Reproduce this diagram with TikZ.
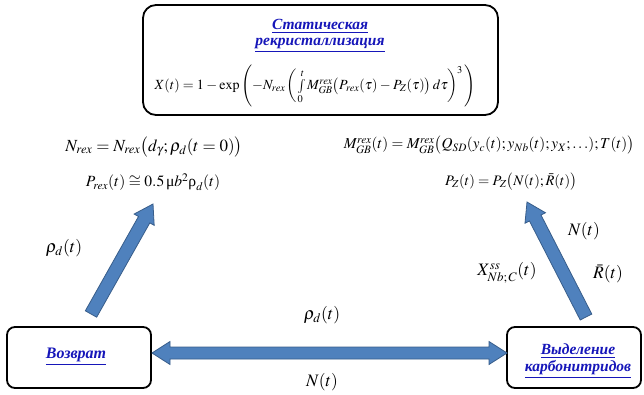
\documentclass[tikz,border=0pt]{standalone}
\usepackage{mathptmx}
\usepackage{fontspec}
\setmainfont{Liberation Serif}
\usetikzlibrary{calc}
\definecolor{arrfill}{RGB}{79,129,189}
\definecolor{arrline}{RGB}{56,93,138}
\definecolor{lnk}{RGB}{22,22,185}
\newcommand\myunder[1]{\underline{#1}}
\newcommand\fsz[1]{\fontsize{#1}{1.2\dimexpr#1pt\relax}\selectfont}
\newcommand\fatarrow[2]{%
  \coordinate (hb) at ($(#2)!18pt!(#1)$);
  \filldraw[fatarr] ($(#1)!6.5pt!90:(#2)$) -- ($(hb)!6.5pt!90:(#2)$) -- ($(hb)!11.5pt!90:(#2)$) -- (#2)
    -- ($(hb)!11.5pt!-90:(#2)$) -- ($(hb)!6.5pt!-90:(#2)$) -- ($(#1)!6.5pt!-90:(#2)$) -- cycle;}
\newcommand\fatdarrow[2]{%
  \coordinate (hb1) at ($(#1)!18pt!(#2)$);
  \coordinate (hb2) at ($(#2)!18pt!(#1)$);
  \filldraw[fatarr] (#1) -- ($(hb1)!11.5pt!90:(#2)$) -- ($(hb1)!6pt!90:(#2)$) -- ($(hb2)!6pt!90:(#2)$)
    -- ($(hb2)!11.5pt!90:(#2)$) -- (#2) -- ($(hb2)!11.5pt!-90:(#2)$) -- ($(hb2)!6pt!-90:(#2)$)
    -- ($(hb1)!6pt!-90:(#2)$) -- ($(hb1)!11.5pt!-90:(#2)$) -- cycle;}
\tikzset{
  fatarr/.style={fill=arrfill,draw=arrline,line width=0.8pt,line join=miter},
  box/.style={draw=black,line width=1.8pt,rounded corners=8pt},
  bigbox/.style={draw=black,line width=1.8pt,rounded corners=13pt},
  lbl/.style={inner sep=0pt,anchor=center,font=\fsz{17.5}},
  frm/.style={inner sep=0pt,anchor=center,font=\fsz{#1}},
  title/.style={inner sep=0pt,anchor=center,text=lnk,font=\fsz{15.5}\bfseries\itshape},
}
\begin{document}
\begin{tikzpicture}[x=1pt,y=-1pt]
\useasboundingbox (0,0) rectangle (644,395);
% boxes
\draw[bigbox] (143,5) rectangle (498,115);
\draw[box] (7,327) rectangle (151,388);
\draw[box] (507,327) rectangle (641,388);
\coordinate (lboxE) at (152,353);
\coordinate (rboxW) at (507,353);
% top box content
\node[title] (t1) at (320,26) {\myunder{Статическая}};
\node[title] (t2) at (320,45) {\myunder{рекристаллизация}};
\node[frm=14] (fX) at (315,86) {\medmuskip=3mu\thickmuskip=4mu$X(t)=1-\exp\left(-N_{rex}\left(\int\limits_0^t M_{GB}^{rex}\bigl(P_{rex}(\tau)-P_Z(\tau)\bigr)\,d\tau\right)^{\!3}\,\right)$};
% bottom boxes text
\node[title,font=\fsz{16}\bfseries\itshape] (vozv) at (76,357) {\myunder{Возврат}};
\node[title] (vyd1) at (578,351) {\myunder{Выделение}};
\node[title] (vyd2) at (578,369) {\myunder{карбонитридов}};
% left formulas
\node[frm=17] (fN) at (154,147) {$N_{rex}=N_{rex}\bigl(d_\gamma;\rho_d(t=0)\bigr)$};
\node[frm=15.6] (fP) at (153,182) {$P_{rex}(t)\cong 0.5\,\mbox{\rmfamily μ}b^2\mbox{\rmfamily ρ}_d(t)$};
% right formulas
\node[frm=15.2] (fM) at (489,145) {$M_{GB}^{rex}(t)=M_{GB}^{rex}\bigl(Q_{SD}(y_c(t);y_{Nb}(t);y_X;\ldots);T(t)\bigr)$};
\node[frm=14.5] (fZ) at (511,182) {$P_Z(t)=P_Z\bigl(N(t);\bar{R}(t)\bigr)$};
% arrow anchor coordinates
\coordinate (la0) at (91,314);
\coordinate (la1) at (153,204);
\coordinate (ra0) at (586,317);
\coordinate (ra1) at (527,202);
\fatarrow{la0}{la1}
\fatarrow{ra0}{ra1}
\fatdarrow{lboxE}{rboxW}
% labels
\node[lbl] (l1) at (64,248) {$\rho_d(t)$};
\node[lbl] (l2) at (322,315) {$\rho_d(t)$};
\node[lbl] (l3) at (322,382) {$N(t)$};
\node[lbl] (l4) at (584,231) {$N(t)$};
\node[lbl] (l5) at (507,273) {$X_{Nb;\,C}^{ss}(t)$};
\node[lbl] (l6) at (608,274) {$\bar{R}(t)$};
\end{tikzpicture}
\end{document}
